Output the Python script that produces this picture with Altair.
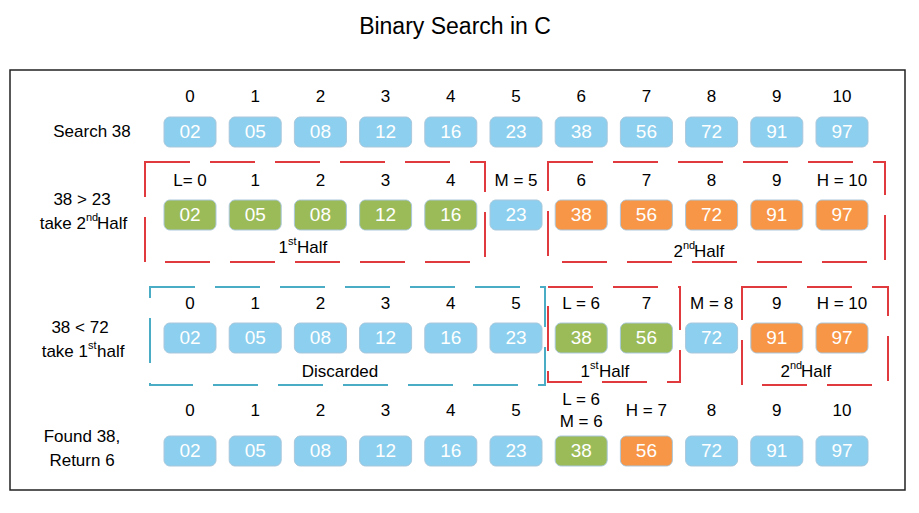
import altair as alt
import pandas as pd

values = ["02","05","08","12","16","23","38","56","72","91","97"]
idx = list(range(11))
row_y = [132, 215, 338, 451]
colors_rows = [
    ["b"]*11,
    ["g"]*5 + ["b"] + ["o"]*5,
    ["b"]*6 + ["g","g","b","o","o"],
    ["b"]*6 + ["g","o"] + ["b"]*3,
]
cmap = {"b": "#8ccfee", "g": "#9bbb59", "o": "#f79646"}
top_labels = [
    (97, [str(i) for i in idx]),
    (181, ["L= 0","1","2","3","4","M = 5","6","7","8","9","H = 10"]),
    (304, ["0","1","2","3","4","5","L = 6","7","M = 8","9","H = 10"]),
    (411, ["0","1","2","3","4","5","","H = 7","8","9","10"]),
]
extra_labels = [("L = 6", 6, 400), ("M = 6", 6, 422)]

def cx(i):
    return 190 + 65.2 * i

boxes, vals, labs = [], [], []
for r, y in enumerate(row_y):
    for i in idx:
        boxes.append(dict(x=cx(i)-26, x2=cx(i)+26, y=y-15, y2=y+15, c=cmap[colors_rows[r][i]]))
        vals.append(dict(x=cx(i), y=y, t=values[i]))
for y, ls in top_labels:
    for i, t in enumerate(ls):
        labs.append(dict(x=cx(i), y=y, t=t))
for t, i, y in extra_labels:
    labs.append(dict(x=cx(i), y=y, t=t))

# row labels (plain)
rowlab = [("Search 38", 92, 132), ("38 > 23", 82, 200), ("38 < 72", 80, 328),
          ("Found 38,", 82, 437), ("Return 6", 82, 461), ("Discarded", 340, 372)]
for t, x, y in rowlab:
    labs.append(dict(x=x, y=y, t=t))

# superscripted labels: (before, sup, after, x_of_sup_start, y)
sups = [("take 2", "nd", " Half", 86, 224), ("take 1", "st", " half", 88, 352),
        ("1", "st", " Half", 288, 248), ("2", "nd", " Half", 683, 252),
        ("1", "st", " Half", 590, 372), ("2", "nd", " Half", 790, 372)]
pre, sp, post = [], [], []
for a, s, b, x, y in sups:
    pre.append(dict(x=x, y=y, t=a))
    sp.append(dict(x=x, y=y-6, t=s))
    post.append(dict(x=x + (11 if s == "nd" else 9), y=y, t=b))

dashed = [
    (145, 485, 162, 262, "#e0393e"), (548, 885, 162, 262, "#e0393e"),
    (150, 545, 287, 385, "#4bacc6"), (548, 680, 287, 382, "#e0393e"),
    (742, 888, 287, 385, "#e0393e"),
]
dash_df = pd.DataFrame([dict(x=a, x2=b, y=c, y2=d, c=e) for a, b, c, d, e in dashed])

X = alt.Scale(domain=[8, 911], nice=False, zero=False)
Y = alt.Scale(domain=[8, 505], nice=False, zero=False, reverse=True)
FONT = "Liberation Sans"

def enc(m, **kw):
    return m.encode(x=alt.X("x:Q", scale=X, axis=None), y=alt.Y("y:Q", scale=Y, axis=None), **kw)

outer = enc(alt.Chart(pd.DataFrame([dict(x=10, x2=905, y=70, y2=490)])).mark_rect(
    fill=None, stroke="#222", strokeWidth=1.5), x2="x2:Q", y2="y2:Q")
dash = enc(alt.Chart(dash_df).mark_rect(fill=None, strokeWidth=2, strokeDash=[45, 20]),
           x2="x2:Q", y2="y2:Q", stroke=alt.Stroke("c:N", scale=None))
box = enc(alt.Chart(pd.DataFrame(boxes)).mark_rect(cornerRadius=6, stroke="#a9c7dc", strokeWidth=1),
          x2="x2:Q", y2="y2:Q", fill=alt.Fill("c:N", scale=None))
vtext = enc(alt.Chart(pd.DataFrame(vals)).mark_text(color="white", fontSize=19, font=FONT), text="t:N")
ltext = enc(alt.Chart(pd.DataFrame(labs)).mark_text(color="black", fontSize=17, font=FONT), text="t:N")
pre_t = enc(alt.Chart(pd.DataFrame(pre)).mark_text(color="black", fontSize=17, font=FONT, align="right"), text="t:N")
sp_t = enc(alt.Chart(pd.DataFrame(sp)).mark_text(color="black", fontSize=11, font=FONT, align="left"), text="t:N")
post_t = enc(alt.Chart(pd.DataFrame(post)).mark_text(color="black", fontSize=17, font=FONT, align="left"), text="t:N")
title = enc(alt.Chart(pd.DataFrame([dict(x=455, y=27, t="Binary Search in C")])).mark_text(
    color="black", fontSize=23, font=FONT), text="t:N")

chart = alt.layer(outer, dash, box, vtext, ltext, pre_t, sp_t, post_t, title).properties(
    width=903, height=497, padding=0, autosize=alt.AutoSizeParams(type="none")
).configure_view(stroke=None)

chart.save("out.html", embed_options={"renderer": "svg", "actions": False})
